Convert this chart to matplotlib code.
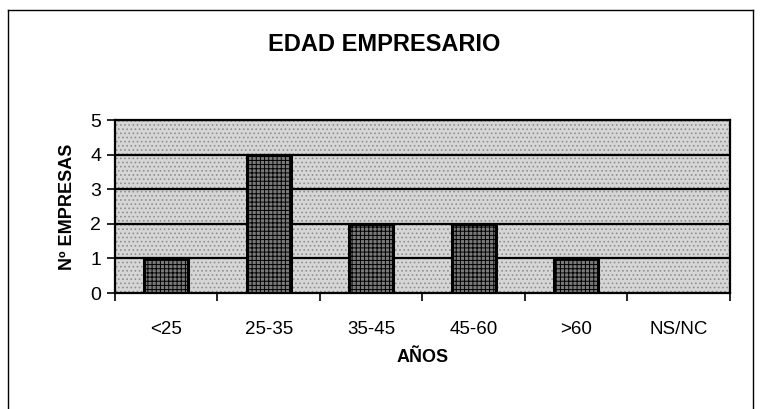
import matplotlib
matplotlib.use("Agg")
import matplotlib.pyplot as plt
from matplotlib.patches import Rectangle
from matplotlib.lines import Line2D

plt.rcParams['font.family'] = ['Liberation Sans', 'DejaVu Sans']
plt.rcParams['hatch.linewidth'] = 0.7

categorias = ['<25', '25-35', '35-45', '45-60', '>60', 'NS/NC']
empresas = [1, 4, 2, 2, 1, 0]
yticks = [0, 1, 2, 3, 4, 5]

fig = plt.figure(figsize=(7.64, 4.09), dpi=100)
ax = fig.add_axes([0.1505, 0.2836, 0.805, 0.423])

# speckled grey plot area
ax.set_facecolor('#d6d6d6')
bg = Rectangle((0, 0), 1, 1, transform=ax.transAxes, facecolor='none',
               edgecolor='#8f8f8f', hatch='....', linewidth=0, zorder=0.5)
ax.add_patch(bg)

x = list(range(len(categorias)))
ax.bar(x, empresas, width=0.43, facecolor='#7a7a7a', edgecolor='black',
       hatch='++++', linewidth=2.2, zorder=3)

ax.set_xlim(-0.5, 5.5)
ax.set_ylim(0, 5)
ax.set_yticks(yticks)
for y in yticks[1:]:
    ax.axhline(y, color='black', linewidth=1.6, zorder=2)

ax.set_xticks([i - 0.5 for i in range(len(categorias) + 1)])
ax.set_xticklabels([])
ax.set_xticks(x, minor=True)
ax.set_xticklabels(categorias, minor=True, fontsize=13.5)
ax.tick_params(axis='x', which='minor', length=0, pad=20)
ax.tick_params(axis='x', which='major', length=6, direction='out', width=1.2)
ax.tick_params(axis='y', length=6, width=1.2, labelsize=14, pad=4)

for s in ax.spines.values():
    s.set_linewidth(1.6)
    s.set_color('black')

ax.set_xlabel('AÑOS', fontsize=13, fontweight='bold', labelpad=8)
ax.set_ylabel('Nº EMPRESAS', fontsize=13, fontweight='bold', labelpad=10)
fig.text(0.503, 0.89, 'EDAD EMPRESARIO', ha='center', va='center',
         fontsize=17, fontweight='bold')

# outer chart frame
fw, fh = 764, 409
fig.add_artist(Line2D([8 / fw, 8 / fw], [0, 1 - 10 / fh], color='black', linewidth=1))
fig.add_artist(Line2D([8 / fw, 753 / fw], [1 - 10 / fh, 1 - 10 / fh], color='black', linewidth=1))
fig.add_artist(Line2D([753 / fw, 753 / fw], [0, 1 - 10 / fh], color='black', linewidth=1))

fig.savefig('out.png', dpi=100)
